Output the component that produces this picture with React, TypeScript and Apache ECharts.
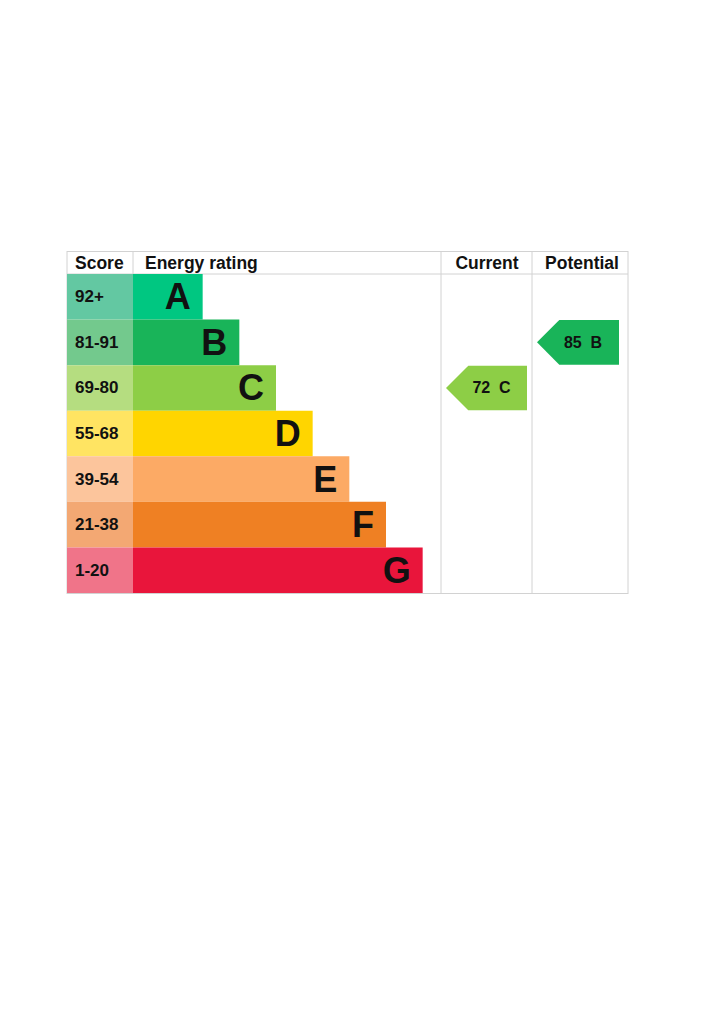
import React, { useEffect, useRef } from "react";
import * as echarts from "echarts";

const ratings = ["A", "B", "C", "D", "E", "F", "G"];
const scoreRanges = ["92+", "81-91", "69-80", "55-68", "39-54", "21-38", "1-20"];
const bandMin = [92, 81, 69, 55, 39, 21, 1];
const barLengths = [1.9, 2.9, 3.9, 4.9, 5.9, 6.9, 7.9];
const ratingColors = ["#00c781", "#19b459", "#8dce46", "#ffd500", "#fcaa65", "#ef8023", "#e9153b"];
const scoreColors = ["#63c8a2", "#73c98d", "#b5dd80", "#ffe462", "#fcc59c", "#f3a873", "#f07489"];
const headers = ["Score", "Energy rating", "Current", "Potential"];
const currentScore = 72;
const potentialScore = 85;

const FONT = "'Liberation Sans', Arial, sans-serif";
const LINE = "#d2d2d2";

function rowOf(score: number) {
  for (let i = 0; i < bandMin.length; i++) if (score >= bandMin[i]) return i;
  return bandMin.length - 1;
}

function makeArrow(rightMargin: number) {
  return (params: any, api: any) => {
    const row = api.value(1);
    const score = api.value(2);
    const p = api.coord([0, row]);
    const s = api.size([1, 1]);
    const left = p[0] + 5;
    const right = p[0] + s[0] - rightMargin;
    const cy = p[1];
    const half = s[1] / 2 - 0.5;
    return {
      type: "group",
      children: [
        {
          type: "polygon",
          shape: {
            points: [
              [left, cy],
              [left + half, cy - half],
              [right, cy - half],
              [right, cy + half],
              [left + half, cy + half],
            ],
          },
          style: { fill: ratingColors[row] },
        },
        {
          type: "text",
          style: {
            text: `${score}  ${ratings[row]}`,
            x: (left + right) / 2 + 5,
            y: cy,
            textAlign: "center",
            textVerticalAlign: "middle",
            fontSize: 16,
            fontWeight: "bold",
            fontFamily: FONT,
            fill: "#111",
          },
        },
      ],
    };
  };
}

export default function App() {
  const ref = useRef<HTMLDivElement>(null);
  useEffect(() => {
    if (!ref.current) return;
    const chart = echarts.init(ref.current, null, { renderer: "svg" });
    const top = 274;
    const height = 319;
    const grids = [
      { left: 67, top, width: 66, height },
      { left: 133, top, width: 308, height },
      { left: 441, top, width: 91, height },
      { left: 532, top, width: 96, height },
    ];
    const xAxes = grids.map((_, i) => ({
      type: "value",
      gridIndex: i,
      min: 0,
      max: i === 1 ? 8.4 : 1,
      show: false,
    }));
    const yAxes = grids.map((_, i) => ({
      type: "category",
      gridIndex: i,
      data: ratings,
      inverse: true,
      show: false,
    }));
    const lineStyle = { stroke: LINE, lineWidth: 1 };
    const hLine = (y: number) => ({
      type: "line",
      shape: { x1: 67, y1: y, x2: 628, y2: y },
      style: lineStyle,
      silent: true,
    });
    const vLine = (x: number, y1: number, y2: number) => ({
      type: "line",
      shape: { x1: x, y1, x2: x, y2 },
      style: lineStyle,
      silent: true,
    });
    const headerText = (text: string, x: number, align: string) => ({
      type: "text",
      style: {
        text,
        x,
        y: 263,
        textAlign: align,
        textVerticalAlign: "middle",
        fontSize: 17.5,
        fontWeight: "bold",
        fontFamily: FONT,
        fill: "#111",
      },
    });
    chart.setOption({
      animation: false,
      grid: grids,
      xAxis: xAxes,
      yAxis: yAxes,
      graphic: [
        hLine(251.5),
        hLine(274),
        hLine(593.5),
        vLine(67, 251, 594),
        vLine(628, 251, 594),
        vLine(133, 251, 274),
        vLine(441, 251, 594),
        vLine(532, 251, 594),
        headerText(headers[0], 75, "left"),
        headerText(headers[1], 145, "left"),
        headerText(headers[2], 487, "center"),
        headerText(headers[3], 582, "center"),
      ],
      series: [
        {
          type: "bar",
          xAxisIndex: 0,
          yAxisIndex: 0,
          barCategoryGap: 0,
          data: scoreRanges.map((r, i) => ({ value: 1, itemStyle: { color: scoreColors[i] } })),
          label: {
            show: true,
            position: "insideLeft",
            distance: 8,
            formatter: (p: any) => scoreRanges[p.dataIndex],
            fontSize: 17,
            fontWeight: "bold",
            fontFamily: FONT,
            color: "#111",
          },
          silent: true,
        },
        {
          type: "bar",
          xAxisIndex: 1,
          yAxisIndex: 1,
          barCategoryGap: 0,
          data: barLengths.map((v, i) => ({ value: v, itemStyle: { color: ratingColors[i] } })),
          label: {
            show: true,
            position: "insideRight",
            distance: 12,
            formatter: (p: any) => ratings[p.dataIndex],
            fontSize: 36,
            fontWeight: "bold",
            fontFamily: FONT,
            color: "#111",
          },
          silent: true,
        },
        {
          type: "custom",
          xAxisIndex: 2,
          yAxisIndex: 2,
          renderItem: makeArrow(5),
          data: [[0.5, rowOf(currentScore), currentScore]],
          silent: true,
        },
        {
          type: "custom",
          xAxisIndex: 3,
          yAxisIndex: 3,
          renderItem: makeArrow(9),
          data: [[0.5, rowOf(potentialScore), potentialScore]],
          silent: true,
        },
      ],
    });
    return () => chart.dispose();
  }, []);
  return (
    <div
      ref={ref}
      style={{ position: "fixed", left: 0, top: 0, width: 724, height: 1024, background: "#fff" }}
    />
  );
}
